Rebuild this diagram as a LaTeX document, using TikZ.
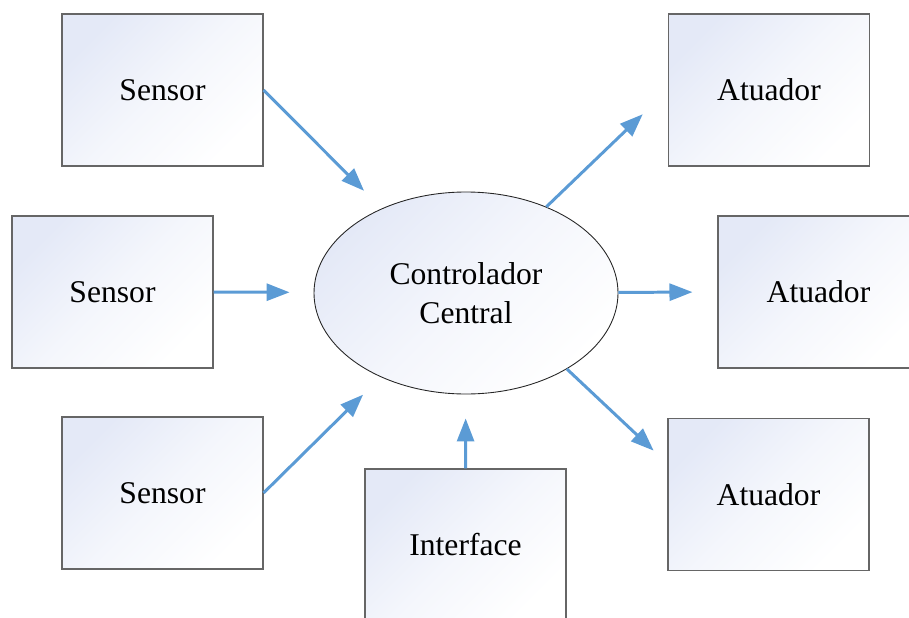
\documentclass[tikz,border=0pt]{standalone}
\usepackage{fontspec}
\setmainfont{Liberation Serif}
\usepackage{tikz}
\usetikzlibrary{arrows.meta,shapes.geometric}
\definecolor{azulseta}{RGB}{91,155,213}
\definecolor{tinta}{RGB}{228,233,247}
\tikzset{
	bloco/.style = {align=center, inner sep=0pt, text centered,
		font=\fontsize{18}{22}\selectfont},
	caixa/.style = {bloco, rectangle, draw=black!60, line width=0.6pt,
		minimum width=4.02cm, minimum height=3.04cm,
		top color=tinta, bottom color=white, middle color=white!60!tinta,
		shading angle=45},% sensor, atuador
	nucleo/.style = {bloco, ellipse, draw=black!85, line width=0.5pt,
		minimum width=6.08cm, minimum height=4.04cm,
		top color=tinta, bottom color=white, middle color=white!60!tinta,
		shading angle=45},% controlador
	liga/.style = {azulseta, line width=1.7pt, shorten >=#1},
	liga/.default = 0.5cm
}

\begin{document}
\begin{tikzpicture}[->,>={Triangle[length=0.46cm,width=0.34cm]}]
\useasboundingbox (0,0) rectangle (18.18,12.34);
\node [nucleo] (ctrl) at (9.32,6.48) {Controlador\\Central};
\node [caixa] (s1) at (3.25,10.54) {Sensor};
\node [caixa] (s2) at (2.25,6.50) {Sensor};
\node [caixa] (s3) at (3.25,2.48) {Sensor};
\node [caixa] (a1) at (15.38,10.54) {Atuador};
\node [caixa] (a2) at (16.37,6.50) {Atuador};
\node [caixa] (a3) at (15.37,2.45) {Atuador};
\node [caixa] (iface) at (9.31,1.44) {Interface};

\draw [liga] (s1.east) -- (ctrl);
\draw [liga=0.48cm] (s2.east) -- (ctrl);
\draw [liga] (s3.east) -- (ctrl);
\draw [liga=0.48cm] (iface.north) -- (ctrl);
\draw [liga=0.7cm] (ctrl.47) -- (a1.west);
\draw [liga] (ctrl) -- (a2.west);
\draw [liga=0.38cm] (ctrl.-37) -- (a3.163);
\end{tikzpicture}
\end{document}
